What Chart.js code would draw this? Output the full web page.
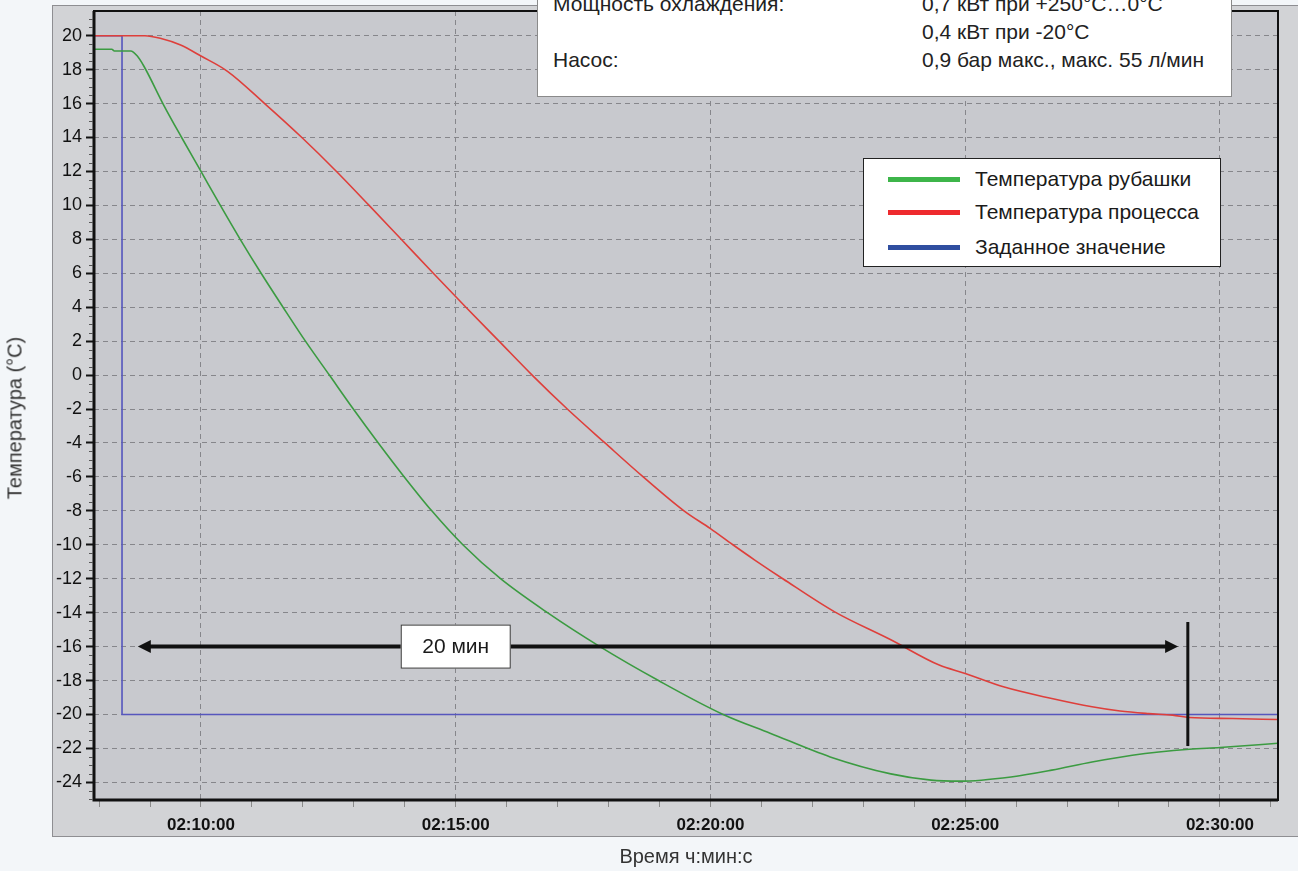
<!DOCTYPE html>
<html>
<head>
<meta charset="utf-8">
<script src="https://cdn.jsdelivr.net/npm/chart.js@4.4.1/dist/chart.umd.min.js"></script>
<style>
  body { margin: 0; background: #f3f6f9; font-family: "Liberation Sans", Arial, sans-serif; }
  #wrap { position: relative; width: 1298px; height: 871px; overflow: hidden; }
  #chart { position: absolute; left: 0; top: 0; }
  .info { position: absolute; left: 537px; top: -26px; width: 693px; height: 121px;
          background: #fff; border: 1px solid #8a8a8a; font-size: 21px; color: #222; }
  .info div, .legend div { position: absolute; white-space: nowrap; line-height: 24px; }
  .legend { position: absolute; left: 863px; top: 158px; width: 356px; height: 107px;
            background: #fff; border: 1px solid #222; font-size: 21px; color: #1a1a1a; }
  .legend span { position: absolute; left: 24px; width: 72px; height: 5px; }
  .ytitle { position: absolute; left: 15px; top: 418px; transform: translate(-50%, -50%) rotate(-90deg);
            font-size: 20px; color: #333; white-space: nowrap; }
</style>
</head>
<body>
<div id="wrap">
  <canvas id="chart" width="1298" height="871"></canvas>
  <div class="info">
    <div style="left:15px;top:17px">Мощность охлаждения:</div>
    <div style="left:384px;top:17px">0,7 кВт при +250°C…0°C</div>
    <div style="left:384px;top:45px">0,4 кВт при -20°C</div>
    <div style="left:15px;top:73px">Насос:</div>
    <div style="left:384px;top:73px">0,9 бар макс., макс. 55 л/мин</div>
  </div>
  <div class="legend" id="legend"></div>
  <div class="ytitle">Температура (°C)</div>
</div>
<script>
// время в минутах после 02:00:00
const jacketTime = [7.90, 8.25, 8.30, 8.62, 8.75, 8.88, 9.27, 9.62, 10.00, 10.38, 10.77, 11.18, 11.61,
  12.05, 12.52, 12.99, 13.48, 13.99, 14.53, 15.14, 15.88, 16.80, 17.83, 18.98, 20.25, 21.17, 22.35,
  23.54, 24.33, 24.90, 25.90, 26.70, 27.49, 28.28, 29.40, 30.00, 31.14];
const jacketTemp = [19.2, 19.2, 19.1, 19.1, 18.8, 18.2, 15.9, 14.0, 12.0, 10.0, 8.0, 6.0, 4.0,
  2.0, 0.0, -2.0, -4.0, -6.0, -8.0, -10.0, -12.0, -14.0, -16.0, -18.0, -20.0, -21.1, -22.5,
  -23.5, -23.87, -23.93, -23.68, -23.28, -22.8, -22.4, -22.05, -21.95, -21.7];

const processTime = [7.90, 8.90, 9.20, 9.60, 10.00, 10.52, 11.25, 11.98, 12.66, 13.30, 13.93, 14.56,
  15.20, 15.85, 16.50, 17.19, 17.93, 18.68, 19.48, 20.00, 20.44, 20.87, 21.42, 22.43, 23.54, 24.49,
  25.00, 25.75, 26.70, 27.49, 28.04, 28.60, 29.07, 29.40, 30.25, 31.14];
const processTemp = [20.0, 20.0, 19.85, 19.45, 18.8, 17.9, 16.0, 14.0, 12.0, 10.0, 8.0, 6.0,
  4.0, 2.0, 0.0, -2.0, -4.0, -6.0, -8.0, -9.05, -10.0, -10.9, -12.0, -13.94, -15.6, -17.09,
  -17.58, -18.37, -19.06, -19.55, -19.8, -19.95, -20.04, -20.18, -20.24, -20.3];

const setpointTime = [7.90, 8.45, 8.45, 31.14];
const setpointTemp = [20, 20, -20, -20];

const seriesNames = ['Температура рубашки', 'Температура процесса', 'Заданное значение'];
const lineColors = ['#3b9b41', '#de3f3b', '#5656bd'];
const legendColors = ['#3db54a', '#ee2a2e', '#2f4ea0'];

// стрелка "20 мин"
const arrowSpan = [8.76, 29.18];
const arrowLevel = -16;
const markerTime = 29.37;
const markerRange = [-14.55, -21.86];
const spanLabel = '20 мин';
const spanLabelTime = 15.0;

function toPoints(xs, ys) {
  return xs.map((x, i) => ({ x: x, y: ys[i] }));
}

function fmtTime(v) {
  return '02:' + String(v).padStart(2, '0') + ':00';
}

// легенда
const leg = document.getElementById('legend');
const rowY = [20, 53, 88];
seriesNames.forEach((name, i) => {
  const s = document.createElement('span');
  s.style.top = (rowY[i] - 2.5) + 'px';
  s.style.background = legendColors[i];
  leg.appendChild(s);
  const t = document.createElement('div');
  t.style.left = '111px';
  t.style.top = (rowY[i] - 12) + 'px';
  t.textContent = name;
  leg.appendChild(t);
});

const panelPlugin = {
  id: 'panel',
  beforeDraw(chart) {
    const { ctx, chartArea: a, width } = chart;
    ctx.save();
    ctx.fillStyle = '#d2d3d6';
    ctx.fillRect(a.left - 42, a.top - 6, width, a.bottom - a.top + 43);
    ctx.strokeStyle = '#8e8e92';
    ctx.lineWidth = 1;
    ctx.strokeRect(a.left - 41.5, a.top - 5.5, width, a.bottom - a.top + 42);
    ctx.fillStyle = '#c8c9ce';
    ctx.fillRect(a.left, a.top, a.width, a.height);
    ctx.restore();
  }
};

const overlayPlugin = {
  id: 'overlay',
  afterDatasetsDraw(chart) {
    const { ctx, chartArea: a } = chart;
    const xs = chart.scales.x, ys = chart.scales.y;
    ctx.save();

    // рамка
    ctx.strokeStyle = '#111';
    ctx.lineWidth = 2;
    ctx.strokeRect(a.left, a.top, a.width, a.height);
    ctx.lineWidth = 3;
    ctx.beginPath();
    ctx.moveTo(a.left, a.top);
    ctx.lineTo(a.left, a.bottom);
    ctx.lineTo(a.right, a.bottom);
    ctx.stroke();

    // мелкие деления на оси Y
    ctx.strokeStyle = '#555';
    ctx.lineWidth = 1;
    for (let v = -25; v <= 21; v += 0.5) {
      if (v % 2 === 0) continue;
      const py = Math.round(ys.getPixelForValue(v)) + 0.5;
      ctx.beginPath();
      ctx.moveTo(a.left - 5, py);
      ctx.lineTo(a.left - 1, py);
      ctx.stroke();
    }

    // стрелка
    const py = ys.getPixelForValue(arrowLevel);
    const x1 = xs.getPixelForValue(arrowSpan[0]);
    const x2 = xs.getPixelForValue(arrowSpan[1]);
    ctx.fillStyle = '#111';
    ctx.strokeStyle = '#111';
    ctx.lineWidth = 4;
    ctx.beginPath();
    ctx.moveTo(x1 + 10, py);
    ctx.lineTo(x2 - 10, py);
    ctx.stroke();
    ctx.beginPath();
    ctx.moveTo(x1, py); ctx.lineTo(x1 + 13, py - 6.5); ctx.lineTo(x1 + 13, py + 6.5); ctx.closePath();
    ctx.fill();
    ctx.beginPath();
    ctx.moveTo(x2, py); ctx.lineTo(x2 - 13, py - 6.5); ctx.lineTo(x2 - 13, py + 6.5); ctx.closePath();
    ctx.fill();

    // вертикальная отметка
    const mx = xs.getPixelForValue(markerTime);
    ctx.lineWidth = 3;
    ctx.beginPath();
    ctx.moveTo(mx, ys.getPixelForValue(markerRange[0]));
    ctx.lineTo(mx, ys.getPixelForValue(markerRange[1]));
    ctx.stroke();

    // подпись
    const cx = xs.getPixelForValue(spanLabelTime);
    ctx.fillStyle = '#fff';
    ctx.fillRect(cx - 55, py - 22, 110, 44);
    ctx.strokeStyle = '#333';
    ctx.lineWidth = 1;
    ctx.strokeRect(cx - 54.5, py - 21.5, 109, 43);
    ctx.fillStyle = '#1a1a1a';
    ctx.font = '21px "Liberation Sans", Arial, sans-serif';
    ctx.textAlign = 'center';
    ctx.textBaseline = 'middle';
    ctx.fillText(spanLabel, cx, py + 1);
    ctx.restore();
  }
};

Chart.defaults.font.family = '"Liberation Sans", Arial, sans-serif';

new Chart(document.getElementById('chart'), {
  type: 'line',
  data: {
    datasets: [
      { label: seriesNames[0], data: toPoints(jacketTime, jacketTemp), borderColor: lineColors[0],
        cubicInterpolationMode: 'monotone' },
      { label: seriesNames[1], data: toPoints(processTime, processTemp), borderColor: lineColors[1],
        cubicInterpolationMode: 'monotone' },
      { label: seriesNames[2], data: toPoints(setpointTime, setpointTemp), borderColor: lineColors[2] }
    ]
  },
  options: {
    responsive: false,
    animation: false,
    devicePixelRatio: 1,
    layout: { padding: { top: 11, right: 20, left: 0, bottom: 0 } },
    elements: { point: { radius: 0 }, line: { tension: 0, borderWidth: 1.6 } },
    plugins: { legend: { display: false }, tooltip: { enabled: false } },
    scales: {
      x: {
        type: 'linear',
        min: 7.9,
        max: 31.14,
        ticks: {
          stepSize: 1, includeBounds: false, autoSkip: false, maxRotation: 0, padding: 8,
          color: '#111', font: { size: 17, weight: 'bold' },
          callback: v => (v % 5 === 0 ? fmtTime(v) : '')
        },
        grid: {
          color: c => (c.tick && c.tick.value % 5 === 0 ? '#86868b' : 'rgba(0,0,0,0)'),
          tickColor: '#8a8a8a', tickLength: 7, lineWidth: 1
        },
        border: { display: false, dash: [5, 4] },
        title: { display: true, text: 'Время ч:мин:с', color: '#333', font: { size: 20 }, padding: { top: 0, bottom: 2 } },
        afterFit: s => { s.height = 71; s.paddingLeft = 0; s.paddingRight = 0; }
      },
      y: {
        min: -25.04,
        max: 21.455,
        ticks: { stepSize: 2, includeBounds: false, padding: 4, color: '#111', font: { size: 18 } },
        grid: { color: '#86868b', tickColor: '#111', tickWidth: 2, tickLength: 8 },
        border: { display: false, dash: [5, 4] },
        afterFit: s => { s.width = 94; s.paddingTop = 0; s.paddingBottom = 0; }
      }
    }
  },
  plugins: [panelPlugin, overlayPlugin]
});
</script>
</body>
</html>
